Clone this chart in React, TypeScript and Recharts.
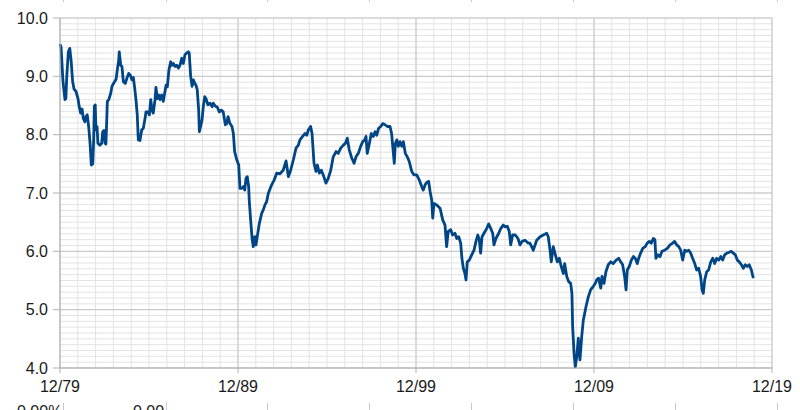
import { CartesianGrid, Line, LineChart, XAxis, YAxis } from 'recharts';

// years after 12/79, and the value read at that point
const years1980s = [
  0.0, 0.06, 0.1, 0.16, 0.19, 0.28, 0.33, 0.38, 0.47, 0.55, 0.63, 0.71, 0.79, 0.9, 1.01, 1.08, 1.16, 1.24, 1.31, 1.4,
  1.46, 1.53, 1.61, 1.69, 1.76, 1.84, 1.89, 1.93, 1.98, 2.02, 2.08, 2.13, 2.25, 2.34, 2.4, 2.47, 2.53, 2.58, 2.62, 2.66,
  2.74, 2.85, 2.92, 3.03, 3.15, 3.22, 3.3, 3.33, 3.41, 3.48, 3.56, 3.67, 3.76, 3.86, 3.95, 4.04, 4.12, 4.2, 4.27, 4.34,
  4.4, 4.49, 4.59, 4.68, 4.78, 4.83, 4.94, 5.02, 5.1, 5.17, 5.24, 5.34, 5.39, 5.47, 5.54, 5.62, 5.71, 5.8, 5.88, 5.96,
  6.03, 6.12, 6.22, 6.29, 6.37, 6.46, 6.56, 6.65, 6.74, 6.84, 6.93, 7.02, 7.12, 7.21, 7.26, 7.34, 7.42, 7.49, 7.57, 7.64,
  7.71, 7.79, 7.83, 7.9, 7.98, 8.05, 8.13, 8.2, 8.31, 8.43, 8.54, 8.61, 8.72, 8.84, 8.95, 9.06, 9.17, 9.29, 9.37, 9.44,
  9.55, 9.66, 9.74, 9.81, 9.93,
];
const values1980s = [
  9.55, 9.5, 9.28, 8.95, 8.85, 8.6, 8.62, 9.0, 9.42, 9.48, 9.25, 8.91, 8.78, 8.74, 8.62, 8.48, 8.37, 8.44, 8.28, 8.22,
  8.31, 8.34, 8.14, 7.85, 7.48, 7.5, 7.9, 8.49, 8.51, 8.08, 8.14, 7.85, 7.82, 7.85, 8.05, 8.07, 7.85, 7.84, 8.19, 8.57,
  8.6, 8.71, 8.83, 8.89, 8.95, 9.11, 9.28, 9.42, 9.19, 9.17, 8.91, 8.88, 8.97, 9.05, 9.02, 8.94, 8.98, 8.79, 8.59, 8.34,
  7.91, 7.9, 8.08, 8.11, 8.28, 8.39, 8.39, 8.34, 8.6, 8.42, 8.37, 8.6, 8.81, 8.62, 8.68, 8.6, 8.68, 8.57, 8.71, 8.85,
  8.82, 9.11, 9.25, 9.19, 9.22, 9.17, 9.19, 9.14, 9.19, 9.31, 9.22, 9.37, 9.4, 9.42, 9.4, 9.0, 8.83, 8.94, 8.88, 8.85,
  8.77, 8.42, 8.05, 8.14, 8.25, 8.48, 8.65, 8.62, 8.51, 8.54, 8.48, 8.54, 8.49, 8.47, 8.39, 8.42, 8.39, 8.17, 8.19, 8.31,
  8.19, 8.14, 8.02, 7.71, 7.57,
];

const years1990s = [
  10.04, 10.11, 10.21, 10.3, 10.38, 10.45, 10.52, 10.6, 10.63, 10.71, 10.79, 10.86, 10.94, 11.01, 11.08, 11.2, 11.33,
  11.42, 11.52, 11.61, 11.7, 11.89, 12.03, 12.17, 12.36, 12.54, 12.7, 12.83, 12.96, 13.11, 13.26, 13.39, 13.48, 13.63,
  13.76, 13.86, 13.95, 14.08, 14.16, 14.27, 14.38, 14.46, 14.57, 14.68, 14.79, 14.94, 15.07, 15.21, 15.35, 15.51, 15.63,
  15.77, 15.92, 16.03, 16.14, 16.25, 16.39, 16.52, 16.63, 16.76, 16.89, 17.01, 17.12, 17.19, 17.26, 17.38, 17.49, 17.6,
  17.7, 17.79, 17.9, 18.02, 18.13, 18.26, 18.39, 18.54, 18.63, 18.72, 18.78, 18.84, 18.92, 19.01, 19.1, 19.2, 19.29,
  19.4, 19.51, 19.62, 19.76, 19.89,
];
const values1990s = [
  7.48, 7.08, 7.08, 7.11, 7.05, 7.25, 7.28, 7.11, 6.88, 6.54, 6.22, 6.08, 6.25, 6.11, 6.25, 6.48, 6.65, 6.71, 6.8, 6.85,
  6.99, 7.14, 7.22, 7.34, 7.33, 7.39, 7.55, 7.28, 7.39, 7.57, 7.77, 7.82, 7.91, 7.97, 8.02, 7.99, 8.08, 8.14, 8.02, 7.51,
  7.37, 7.48, 7.34, 7.39, 7.31, 7.17, 7.25, 7.39, 7.62, 7.71, 7.68, 7.77, 7.82, 7.85, 7.94, 7.74, 7.6, 7.51, 7.62, 7.68,
  7.8, 7.88, 7.91, 7.97, 7.68, 7.85, 8.02, 7.97, 8.05, 7.99, 8.11, 8.14, 8.19, 8.17, 8.14, 8.14, 8.02, 7.71, 7.51, 7.85,
  7.91, 7.8, 7.88, 7.8, 7.88, 7.68, 7.62, 7.54, 7.37, 7.31,
];

const years2000s = [
  20.04, 20.19, 20.32, 20.41, 20.51, 20.6, 20.71, 20.79, 20.88, 20.94, 21.01, 21.15, 21.35, 21.5, 21.63, 21.72, 21.81,
  21.95, 22.06, 22.19, 22.29, 22.4, 22.51, 22.58, 22.66, 22.75, 22.81, 22.88, 22.99, 23.13, 23.26, 23.37, 23.47, 23.56,
  23.63, 23.71, 23.82, 23.97, 24.08, 24.2, 24.31, 24.38, 24.49, 24.65, 24.76, 24.9, 25.02, 25.13, 25.24, 25.32, 25.43,
  25.58, 25.73, 25.84, 25.96, 26.12, 26.31, 26.4, 26.59, 26.78, 26.97, 27.15, 27.34, 27.43, 27.53, 27.6, 27.71, 27.83,
  27.94, 28.05, 28.16, 28.28, 28.35, 28.47, 28.58, 28.69, 28.76, 28.8, 28.88, 28.95, 29.03, 29.12, 29.21, 29.31, 29.4,
  29.55, 29.68, 29.81, 29.96,
];
const values2000s = [
  7.31, 7.22, 7.11, 7.05, 7.14, 7.18, 7.2, 7.03, 6.88, 6.57, 6.82, 6.8, 6.74, 6.54, 6.45, 6.08, 6.34, 6.37, 6.28, 6.31,
  6.22, 6.25, 6.14, 5.88, 5.71, 5.62, 5.51, 5.82, 5.85, 5.94, 6.02, 6.17, 6.28, 6.19, 5.97, 6.25, 6.31, 6.39, 6.47, 6.39,
  6.31, 6.11, 6.22, 6.31, 6.39, 6.45, 6.42, 6.43, 6.34, 6.11, 6.28, 6.28, 6.22, 6.11, 6.17, 6.19, 6.14, 6.14, 6.02, 6.19,
  6.25, 6.28, 6.31, 6.25, 6.02, 5.82, 6.08, 5.94, 5.82, 5.88, 5.74, 5.62, 5.79, 5.57, 5.48, 5.45, 5.28, 4.71, 4.25, 4.02,
  4.19, 4.51, 4.14, 4.54, 4.82, 5.05, 5.22, 5.34, 5.4,
];

const years2010s = [
  30.07, 30.15, 30.26, 30.38, 30.45, 30.56, 30.67, 30.8, 30.94, 31.08, 31.24, 31.39, 31.5, 31.61, 31.72, 31.8, 31.87,
  31.98, 32.1, 32.21, 32.32, 32.43, 32.51, 32.62, 32.74, 32.88, 32.99, 33.11, 33.22, 33.33, 33.42, 33.48, 33.6, 33.71,
  33.82, 33.97, 34.12, 34.27, 34.42, 34.53, 34.65, 34.76, 34.87, 34.98, 35.1, 35.21, 35.32, 35.43, 35.54, 35.66, 35.77,
  35.88, 35.99, 36.07, 36.14, 36.22, 36.33, 36.44, 36.56, 36.67, 36.78, 36.89, 37.01, 37.12, 37.23, 37.34, 37.46, 37.57,
  37.71, 37.83, 37.94, 38.05, 38.16, 38.28, 38.39, 38.5, 38.61, 38.72, 38.84, 38.95,
];
const values2010s = [
  5.45, 5.51, 5.54, 5.37, 5.57, 5.45, 5.65, 5.77, 5.82, 5.79, 5.85, 5.88, 5.82, 5.77, 5.57, 5.34, 5.68, 5.74, 5.85, 5.91,
  5.88, 5.79, 5.88, 5.97, 6.05, 6.08, 6.14, 6.17, 6.14, 6.22, 6.2, 5.88, 5.94, 5.91, 6.0, 6.02, 6.05, 6.11, 6.14, 6.17,
  6.11, 6.08, 6.02, 5.85, 6.02, 6.0, 6.02, 5.97, 5.88, 5.79, 5.68, 5.71, 5.57, 5.34, 5.28, 5.51, 5.65, 5.68, 5.82, 5.88,
  5.79, 5.88, 5.85, 5.91, 5.85, 5.94, 5.97, 5.98, 6.0, 5.97, 5.94, 5.85, 5.82, 5.77, 5.71, 5.77, 5.74, 5.77, 5.68, 5.54,
];

const xTicks = [0, 10, 20, 30, 40];
const xTickLabels = ['12/79', '12/89', '12/99', '12/09', '12/19'];
const yTicks = [4, 5, 6, 7, 8, 9, 10];

// one light grid line per year and per 0.1
const minorX = Array.from({ length: 41 }, (_, i) => i);
const minorY = Array.from({ length: 61 }, (_, i) => Math.round((4 + i / 10) * 10) / 10);

const years = [...years1980s, ...years1990s, ...years2000s, ...years2010s];
const values = [...values1980s, ...values1990s, ...values2000s, ...values2010s];
const data = years.map((t, i) => ({ t, value: values[i] }));

// spreadsheet cell borders peeking in at the top and bottom edge
const cellEdges = [63, 166, 267, 369, 471, 573, 675, 777];

const font = '"Liberation Sans", Arial, sans-serif';

export default function App() {
  return (
    <div
      style={{
        position: 'absolute',
        left: 0,
        top: 0,
        width: 800,
        height: 410,
        overflow: 'hidden',
        background: '#fff',
        fontFamily: font,
      }}
    >
      <LineChart width={800} height={410} data={data} margin={{ top: 18, right: 28, bottom: 12, left: 0 }}>
        <CartesianGrid stroke="#e3e3e3" horizontalValues={minorY} verticalValues={minorX} syncWithTicks />
        <CartesianGrid stroke="#c4c4c4" horizontalValues={yTicks} verticalValues={xTicks} syncWithTicks />
        <XAxis
          dataKey="t"
          type="number"
          domain={[0, 40]}
          ticks={xTicks}
          interval={0}
          height={30}
          tickSize={5}
          tickMargin={8}
          stroke="#b3b3b3"
          tick={{ fill: '#1a1a1a', fontSize: 16, fontFamily: font }}
          tickFormatter={(v: number) => xTickLabels[xTicks.indexOf(v)] ?? ''}
        />
        <YAxis
          type="number"
          domain={[4, 10]}
          ticks={yTicks}
          interval={0}
          width={60}
          tickSize={7}
          tickMargin={5}
          stroke="#b3b3b3"
          tick={{ fill: '#1a1a1a', fontSize: 16, fontFamily: font }}
          tickFormatter={(v: number) => v.toFixed(1)}
        />
        <Line
          type="linear"
          dataKey="value"
          stroke="#004586"
          strokeWidth={2.8}
          strokeLinejoin="round"
          dot={false}
          activeDot={false}
          isAnimationActive={false}
        />
      </LineChart>
      {cellEdges.map((x) => (
        <div key={`top-${x}`} style={{ position: 'absolute', left: x, top: 0, width: 1, height: 2, background: '#c8c8c8' }} />
      ))}
      {cellEdges.map((x) => (
        <div key={`bot-${x}`} style={{ position: 'absolute', left: x, top: 403, width: 1, height: 7, background: '#c8c8c8' }} />
      ))}
      <div style={{ position: 'absolute', left: 17, top: 402.5, fontSize: 16, color: '#1a1a1a', lineHeight: 'normal' }}>0.00%</div>
      <div style={{ position: 'absolute', left: 133, top: 402.5, fontSize: 16, color: '#1a1a1a', lineHeight: 'normal' }}>0.00</div>
    </div>
  );
}
